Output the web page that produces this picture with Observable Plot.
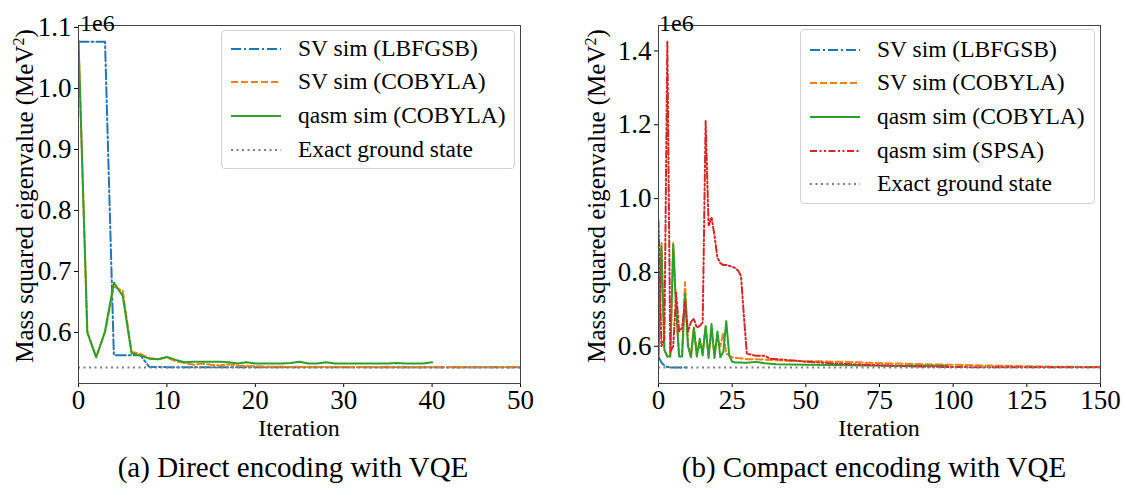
<!DOCTYPE html>
<html><head><meta charset="utf-8">
<script src="https://cdn.jsdelivr.net/npm/d3@7"></script>
<script src="https://cdn.jsdelivr.net/npm/@observablehq/plot@0.6"></script>
<style>
body{margin:0;background:#fff;}
#wrap{position:relative;width:1124px;height:489px;background:#fff;font-family:"Liberation Serif","Times New Roman",serif;color:#000;overflow:hidden}
.panel{position:absolute;top:0}
.ylab{position:absolute;font-size:25px;line-height:1;white-space:nowrap;transform:translate(-50%,-50%) rotate(-90deg);}
.xlab{position:absolute;font-size:24px;line-height:1;transform:translate(-50%,-50%);white-space:nowrap}
.offset{position:absolute;font-size:24px;line-height:1}
.cap{position:absolute;font-size:29px;line-height:1;transform:translate(-50%,-50%);white-space:nowrap}
.legend{position:absolute;border:1px solid #d3d3d3;border-radius:4px;background:rgba(255,255,255,0.85);box-sizing:border-box}
.lrow{position:absolute;left:0;height:0}
.lrow svg{position:absolute;top:-5px}
.lrow span{position:absolute;font-size:23.5px;line-height:1;white-space:nowrap;transform:translateY(-50%)}
sup{font-size:16px;vertical-align:0;position:relative;top:-9px}
</style>
</head><body>
<div id="wrap"></div>
<script>
// ---------- data (values in units of 1e6 MeV^2) ----------
const SCALE = 1e6;
const GROUND = 0.5425; // exact ground state

const seriesNames = ["SV sim (LBFGSB)", "SV sim (COBYLA)", "qasm sim (COBYLA)", "qasm sim (SPSA)", "Exact ground state"];

// (a) Direct encoding
const directLBFGSBIter = [0,1,2,3,4,5,6,7,8,9,10,12,15,20,25,30,35,40,45,50];
const directLBFGSBVal  = [1.0765,1.0765,1.0765,1.0765,0.5627,0.5627,0.5627,0.5627,0.5437,0.5433,0.5431,0.5430,0.5429,0.5428,0.5428,0.5428,0.5428,0.5428,0.5428,0.5428];

const directSVCobylaIter = [0,1,2,3,4,5,6,7,8,9,10,11,12,13,14,15,16,17,18,19,20,21,22,23,24,25,30,35,40,45,50];
const directSVCobylaVal  = [1.078,0.600,0.560,0.600,0.675,0.668,0.568,0.565,0.558,0.556,0.559,0.553,0.550,0.547,0.549,0.547,0.546,0.548,0.546,0.545,0.5445,0.5440,0.5438,0.5436,0.5435,0.5434,0.5432,0.5431,0.5430,0.5430,0.5430];

const directQasmIter = [0,1,2,3,4,5,6,7,8,9,10,11,12,13,14,15,16,17,18,19,20,21,22,23,24,25,26,27,28,29,30,31,32,33,34,35,36,37,38,39,40];
const directQasmVal  = [1.078,0.600,0.559,0.602,0.682,0.660,0.566,0.562,0.557,0.556,0.560,0.555,0.551,0.552,0.552,0.552,0.552,0.551,0.549,0.551,0.549,0.549,0.549,0.549,0.550,0.552,0.549,0.549,0.551,0.549,0.549,0.549,0.549,0.549,0.549,0.549,0.550,0.549,0.549,0.549,0.551];

// (b) Compact encoding
const compactLBFGSBIter = [0,1,2,3,4,5,6,7,8,9,10];
const compactLBFGSBVal  = [0.571,0.556,0.548,0.544,0.5428,0.5425,0.5424,0.5424,0.5424,0.5424,0.5424];

const compactSVCobylaIter = [0,1,2,3,4,5,6,7,8,9,10,11,12,13,14,15,16,17,18,19,20,21,22,23,24,25,26,27,28,29,30,35,40,46,55,62,72,82,91,100,110,118,130,141,150];
const compactSVCobylaVal  = [0.575,0.880,0.590,0.572,0.572,0.880,0.700,0.572,0.575,0.773,0.610,0.572,0.648,0.585,0.600,0.590,0.650,0.575,0.640,0.580,0.625,0.600,0.637,0.580,0.575,0.570,0.568,0.568,0.567,0.566,0.565,0.564,0.562,0.560,0.559,0.5576,0.555,0.553,0.551,0.5496,0.548,0.5468,0.545,0.5441,0.5436];

const compactQasmIter = [0,1,2,3,4,5,6,7,8,9,10,11,12,13,14,15,16,17,18,19,20,21,22,23,24,25,26,27,28,29,30,33,36,40,50,60,70,80,90,98];
const compactQasmVal  = [0.575,0.870,0.590,0.572,0.572,0.875,0.700,0.572,0.572,0.742,0.600,0.570,0.651,0.572,0.620,0.575,0.655,0.568,0.660,0.568,0.640,0.570,0.585,0.668,0.575,0.558,0.556,0.556,0.556,0.555,0.555,0.5576,0.554,0.5514,0.550,0.549,0.548,0.547,0.5468,0.5468];

const compactSPSAIter = [0,1,2,3,4,5,6,7,8,9,10,11,12,13,14,15,16,17,18,19,20,21,22,23,24,25,26,27,28,29,30,31,33,36,38,42,46,50,55,60,66,72,80,90,100,120,150];
const compactSPSAVal  = [0.940,0.600,0.620,1.425,0.585,0.600,0.745,0.640,0.650,0.720,0.640,0.665,0.675,0.650,0.655,0.665,1.210,0.925,0.950,0.900,0.840,0.825,0.820,0.820,0.818,0.815,0.812,0.805,0.790,0.680,0.578,0.578,0.574,0.574,0.566,0.564,0.561,0.558,0.556,0.553,0.551,0.549,0.547,0.5445,0.5435,0.5430,0.5428];

// ---------- styles ----------
const styles = [
  {color:"#1f77b4", dash:"10,3,2,3"},
  {color:"#ff7f0e", dash:"7,3"},
  {color:"#2ca02c", dash:null},
  {color:"#d62728", dash:"7,2.5,2,2.5,2,2.5"},
  {color:"#7f7f7f", dash:"2,3.5"}
];
const FONT = '"Liberation Serif","Times New Roman",serif';
const TICK_FONT = 27;

function toRows(iter, val){ return iter.map((it,i)=>({it, v: val[i]*SCALE})); }

function panel(cfg){
  const marks = cfg.series.map(s => Plot.line(toRows(s.iter, s.val), {
    x:"it", y:"v", stroke: styles[s.style].color, strokeWidth: 2,
    strokeDasharray: styles[s.style].dash || undefined, strokeLinejoin:"round", clip:true
  }));
  marks.push(Plot.ruleY([GROUND*SCALE], {stroke: styles[4].color, strokeWidth: 2, strokeDasharray: styles[4].dash}));
  marks.push(Plot.axisX({ticks: cfg.xTicks, tickSize: 4, tickPadding: 2, label: null, tickFormat: d => String(d), fontSize: TICK_FONT, fontFamily: FONT}));
  marks.push(Plot.axisY({ticks: cfg.yTicks.map(v=>v*SCALE), tickSize: 4, tickPadding: 3, label: null, tickFormat: d => (d/SCALE).toFixed(1), fontSize: TICK_FONT, fontFamily: FONT}));
  marks.push(Plot.frame({stroke:"#444", strokeWidth:1}));
  return Plot.plot({
    width: cfg.width, height: 440,
    marginTop: 25, marginBottom: 57, marginLeft: cfg.ml, marginRight: cfg.mr,
    style: {fontFamily: FONT, fontSize: TICK_FONT + "px", color: "#000", background: "transparent", overflow: "visible"},
    x: {domain: cfg.xDomain},
    y: {domain: cfg.yDomain.map(v=>v*SCALE)},
    marks
  });
}

const wrap = document.getElementById("wrap");

const panels = [
  {left:0, width:560, ml:78, mr:40, xDomain:[0,50], xTicks:[0,10,20,30,40,50],
   yDomain:[0.5163,1.1032], yTicks:[0.6,0.7,0.8,0.9,1.0,1.1],
   series:[
     {iter:directLBFGSBIter, val:directLBFGSBVal, style:0},
     {iter:directSVCobylaIter, val:directSVCobylaVal, style:1},
     {iter:directQasmIter, val:directQasmVal, style:2}
   ],
   legendIdx:[0,1,2,4], legend:{left:221, top:30, width:294, height:139, rows:[17.5,51.2,84.9,118.6]},
   ylab:{x:24, y:196}, off:{x:80, y:11}, xlab:{x:299, y:428}, cap:{x:293, y:467, text:"(a) Direct encoding with VQE"}},
  {left:560, width:564, ml:98, mr:24, xDomain:[0,150], xTicks:[0,25,50,75,100,125,150],
   yDomain:[0.4990,1.4690], yTicks:[0.6,0.8,1.0,1.2,1.4],
   series:[
     {iter:compactLBFGSBIter, val:compactLBFGSBVal, style:0},
     {iter:compactSVCobylaIter, val:compactSVCobylaVal, style:1},
     {iter:compactQasmIter, val:compactQasmVal, style:2},
     {iter:compactSPSAIter, val:compactSPSAVal, style:3}
   ],
   legendIdx:[0,1,2,3,4], legend:{left:800, top:29, width:295, height:175, rows:[19.5,53.2,86.9,120.6,154.3]},
   ylab:{x:596, y:196}, off:{x:659, y:11}, xlab:{x:879, y:428}, cap:{x:874, y:467, text:"(b) Compact encoding with VQE"}}
];

for (const p of panels){
  const svg = panel(p);
  svg.classList.add("panel");
  svg.style.left = p.left + "px";
  svg.style.position = "absolute";
  wrap.appendChild(svg);

  const yl = document.createElement("div");
  yl.className = "ylab";
  yl.style.left = p.ylab.x + "px"; yl.style.top = p.ylab.y + "px";
  yl.innerHTML = "Mass squared eigenvalue (MeV<sup>2</sup>)";
  wrap.appendChild(yl);

  const off = document.createElement("div");
  off.className = "offset";
  off.style.left = p.off.x + "px"; off.style.top = p.off.y + "px";
  off.textContent = "1e6";
  wrap.appendChild(off);

  const xl = document.createElement("div");
  xl.className = "xlab";
  xl.style.left = p.xlab.x + "px"; xl.style.top = p.xlab.y + "px";
  xl.textContent = "Iteration";
  wrap.appendChild(xl);

  const cap = document.createElement("div");
  cap.className = "cap";
  cap.style.left = p.cap.x + "px"; cap.style.top = p.cap.y + "px";
  cap.textContent = p.cap.text;
  wrap.appendChild(cap);

  const lg = document.createElement("div");
  lg.className = "legend";
  Object.assign(lg.style, {left:p.legend.left+"px", top:p.legend.top+"px", width:p.legend.width+"px", height:p.legend.height+"px"});
  p.legendIdx.forEach((k, i) => {
    const row = document.createElement("div");
    row.className = "lrow";
    row.style.top = p.legend.rows[i] + "px";
    const st = styles[k];
    row.innerHTML = `<svg width="52" height="10" style="left:8px"><line x1="1" y1="5" x2="51" y2="5" stroke="${st.color}" stroke-width="2" ${st.dash ? `stroke-dasharray="${st.dash}"` : ""}/></svg><span style="left:76px">${seriesNames[k]}</span>`;
    lg.appendChild(row);
  });
  wrap.appendChild(lg);
}
</script>
</body></html>
